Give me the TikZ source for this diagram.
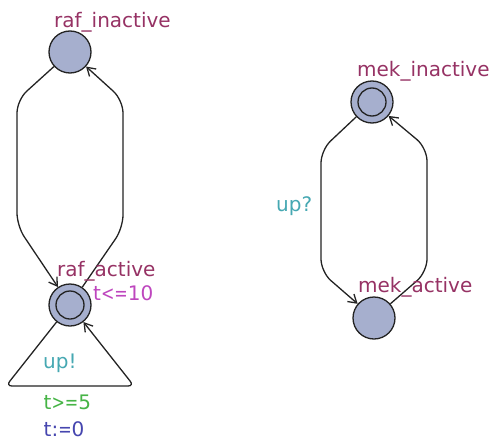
\documentclass[tikz,border=0pt]{standalone}
\usepackage{fontspec}
\setmainfont{DejaVu Sans}
\newfontfamily\relfont{DejaVu Sans}[FakeStretch=0.8]
\newcommand{\rel}[1]{{\relfont #1}}
\usetikzlibrary{arrows.meta}
\definecolor{locfill}{RGB}{166,175,206}
\definecolor{locname}{RGB}{150,50,100}
\definecolor{invcol}{RGB}{190,70,190}
\definecolor{synccol}{RGB}{70,168,178}
\definecolor{guardcol}{RGB}{70,180,70}
\definecolor{assigncol}{RGB}{70,70,175}
\definecolor{edgecol}{RGB}{35,35,35}
\tikzset{
  loc/.style={circle, draw=edgecol, line width=1.3pt, fill=locfill, minimum size=42pt, inner sep=0pt},
  innerring/.style={draw=edgecol, line width=1.3pt},
  edge/.style={draw=edgecol, line width=1.3pt, rounded corners=13pt, -{Straight Barb[length=8pt,width=10pt]}},
  lbl/.style={inner sep=0pt, anchor=base west, font=\fontsize{20}{24}\selectfont}
}
\begin{document}
\begin{tikzpicture}[x=1pt,y=-1pt]
  \useasboundingbox (0,0) rectangle (494,441);

  % raf template
  \node[loc] (rafI) at (70,52) {};
  \node[loc] (rafA) at (70,305) {};
  \draw[innerring] (rafA.center) circle[radius=14pt];
  \coordinate (rl1) at (17,100);
  \coordinate (rl2) at (17,226);
  \coordinate (rr1) at (123,228);
  \coordinate (rr2) at (123,100);
  \coordinate (sl) at (6,386);
  \coordinate (sr) at (134,386);
  \draw[edge] (rafI) -- (rl1) -- (rl2) -- (rafA);
  \draw[edge] (rafA) -- (rr1) -- (rr2) -- (rafI);
  \draw[edge, rounded corners=6pt] (rafA) -- (sl) -- (sr) -- (rafA);

  \node[lbl, text=locname] (rafIname) at (54,27.5) {raf\_inactive};
  \node[lbl, text=locname] (rafAname) at (57,276) {raf\_active};
  \node[lbl, text=invcol] (rafAinv) at (93,300) {t\rel{<=}10};
  \node[lbl, text=synccol] (sync1) at (43,368.5) {up!};
  \node[lbl, text=guardcol] (guard1) at (43.5,409) {t\rel{>=}5};
  \node[lbl, text=assigncol] (assign1) at (43.5,436) {t:\rel{=}0};

  % mek template
  \node[loc] (mekI) at (372,102) {};
  \draw[innerring] (mekI.center) circle[radius=14pt];
  \node[loc] (mekA) at (374,318) {};
  \coordinate (ml1) at (321,150);
  \coordinate (ml2) at (321,272);
  \coordinate (mr1) at (427,272);
  \coordinate (mr2) at (427,148);
  \draw[edge] (mekI) -- (ml1) -- (ml2) -- (mekA);
  \draw[edge] (mekA) -- (mr1) -- (mr2) -- (mekI);

  \node[lbl, text=locname] (mekIname) at (357,77) {mek\_inactive};
  \node[lbl, text=locname] (mekAname) at (358,292) {mek\_active};
  \node[lbl, text=synccol] (sync2) at (276,211) {up?};
\end{tikzpicture}
\end{document}
